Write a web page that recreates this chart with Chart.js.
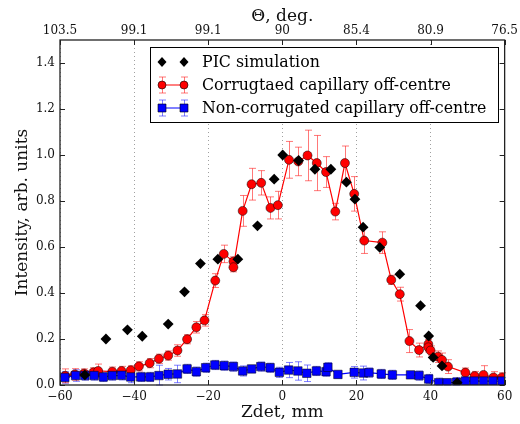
<!DOCTYPE html>
<html>
<head>
<meta charset="utf-8">
<script src="https://cdn.jsdelivr.net/npm/chart.js@4"></script>
<style>
  html, body { margin: 0; padding: 0; background: #fff; }
  #wrap { width: 520px; height: 424px; position: relative; }
</style>
</head>
<body>
<div id="wrap"><canvas id="chart"></canvas></div>
<script>
// PIC simulation (black diamonds)
const picZ = [-53.3, -47.6, -41.8, -37.8, -30.8, -26.4, -22.1, -17.4, -12.0, -6.7, -2.2, 0.1, 4.4, 8.8, 13.1, 17.3, 19.6, 21.8, 26.3, 31.7, 37.3, 39.5, 40.7, 43.1, 47.2];
const picI = [0.044, 0.200, 0.240, 0.212, 0.265, 0.405, 0.528, 0.547, 0.547, 0.692, 0.895, 1.000, 0.976, 0.938, 0.938, 0.882, 0.808, 0.686, 0.598, 0.482, 0.345, 0.213, 0.120, 0.083, 0.010];

// corrugated capillary (red)
const redZ = [-58.6, -56.0, -53.5, -51.0, -49.7, -45.9, -43.4, -40.9, -38.7, -35.8, -33.3, -30.8, -28.3, -25.7, -23.2, -21.0, -18.1, -15.8, -13.2, -13.2, -10.7, -8.3, -5.7, -3.2, -1.2, 1.8, 4.3, 6.8, 9.3, 11.8, 14.3, 16.9, 19.4, 22.1, 27.0, 29.4, 31.7, 34.3, 36.9, 39.4, 39.4, 40.0, 42.0, 43.1, 44.7, 49.4, 51.9, 54.3, 57.0, 59.3];
const redI = [0.040, 0.046, 0.050, 0.055, 0.061, 0.058, 0.061, 0.064, 0.081, 0.095, 0.114, 0.128, 0.150, 0.199, 0.251, 0.281, 0.454, 0.570, 0.537, 0.512, 0.757, 0.873, 0.879, 0.770, 0.782, 0.979, 0.972, 0.998, 0.965, 0.926, 0.754, 0.965, 0.831, 0.628, 0.619, 0.457, 0.395, 0.191, 0.152, 0.178, 0.164, 0.150, 0.123, 0.109, 0.080, 0.054, 0.039, 0.044, 0.033, 0.033];
const redErr = [0.030, 0.025, 0.020, 0.020, 0.030, 0.020, 0.020, 0.020, 0.020, 0.020, 0.020, 0.020, 0.025, 0.020, 0.025, 0.025, 0.030, 0.038, 0.020, 0.020, 0.067, 0.069, 0.053, 0.048, 0.060, 0.080, 0.062, 0.110, 0.120, 0.067, 0.036, 0.074, 0.075, 0.056, 0.047, 0.020, 0.030, 0.050, 0.030, 0.020, 0.020, 0.020, 0.025, 0.030, 0.030, 0.020, 0.020, 0.040, 0.025, 0.020];

// non-corrugated capillary (blue)
const blueZ = [-58.7, -55.8, -53.3, -50.8, -48.3, -45.9, -43.4, -40.9, -38.2, -35.8, -33.3, -30.8, -28.3, -25.7, -23.2, -20.7, -18.2, -15.7, -13.2, -10.7, -8.3, -5.8, -3.3, -0.8, 1.7, 4.2, 6.6, 9.2, 11.8, 12.3, 15.0, 19.4, 21.9, 23.4, 26.7, 29.7, 34.6, 36.9, 39.5, 42.2, 44.5, 47.0, 49.4, 51.8, 54.3, 56.8, 59.3];
const blueI = [0.033, 0.041, 0.041, 0.041, 0.035, 0.041, 0.042, 0.035, 0.035, 0.035, 0.041, 0.047, 0.048, 0.070, 0.058, 0.075, 0.087, 0.084, 0.080, 0.061, 0.070, 0.080, 0.075, 0.055, 0.065, 0.061, 0.051, 0.061, 0.058, 0.077, 0.046, 0.055, 0.052, 0.054, 0.048, 0.044, 0.044, 0.041, 0.026, 0.010, 0.010, 0.012, 0.017, 0.017, 0.017, 0.017, 0.017];
const blueErr = [0.025, 0.025, 0.020, 0.020, 0.020, 0.020, 0.020, 0.025, 0.020, 0.020, 0.045, 0.025, 0.038, 0.020, 0.020, 0.020, 0.020, 0.020, 0.020, 0.022, 0.015, 0.020, 0.020, 0.022, 0.033, 0.040, 0.036, 0.020, 0.020, 0.020, 0.015, 0.025, 0.030, 0.020, 0.020, 0.020, 0.015, 0.020, 0.020, 0.020, 0.015, 0.020, 0.015, 0.015, 0.015, 0.015, 0.015];

const zTicks = [-60, -40, -20, 0, 20, 40, 60];
const thetaLabels = ['103.5', '99.1', '99.1', '90', '85.4', '80.9', '76.5'];
const yTicks = [0, 0.2, 0.4, 0.6, 0.8, 1.0, 1.2, 1.4];

const seriesNames = ['PIC simulation', 'Corrugtaed capillary off-centre', 'Non-corrugated capillary off-centre'];

const FONT = 'DejaVu Serif';
const pts = (xs, ys) => xs.map((x, i) => ({ x: x, y: ys[i] }));

// error bars under the markers, drawn through the chart scales
const errorBars = {
    id: 'errorBars',
    beforeDatasetsDraw(chart) {
        const ctx = chart.ctx;
        const xs = chart.scales.x, ys = chart.scales.y;
        chart.data.datasets.forEach(ds => {
            if (!ds.yErr) return;
            ctx.save();
            ctx.strokeStyle = ds.errColor;
            ctx.lineWidth = 1;
            ds.data.forEach((p, i) => {
                const px = Math.round(xs.getPixelForValue(p.x)) + 0.5;
                const top = ys.getPixelForValue(p.y + ds.yErr[i]);
                const bot = ys.getPixelForValue(Math.max(0, p.y - ds.yErr[i]));
                ctx.beginPath();
                ctx.moveTo(px, top); ctx.lineTo(px, bot);
                ctx.moveTo(px - 3.5, top); ctx.lineTo(px + 3.5, top);
                ctx.moveTo(px - 3.5, bot); ctx.lineTo(px + 3.5, bot);
                ctx.stroke();
            });
            ctx.restore();
        });
    }
};

function diamond(ctx, x, y) {
    ctx.beginPath();
    ctx.moveTo(x, y - 5); ctx.lineTo(x + 4.5, y); ctx.lineTo(x, y + 5); ctx.lineTo(x - 4.5, y);
    ctx.closePath();
    ctx.fillStyle = '#000';
    ctx.fill();
}

// frame, inward ticks on all four sides and the legend box
const decor = {
    id: 'decor',
    afterDraw(chart) {
        const ctx = chart.ctx;
        const a = chart.chartArea;
        const xs = chart.scales.x, ys = chart.scales.y;
        ctx.save();
        ctx.strokeStyle = '#222';
        ctx.lineWidth = 1;
        ctx.beginPath();
        zTicks.forEach(v => {
            const px = Math.round(xs.getPixelForValue(v)) + 0.5;
            ctx.moveTo(px, a.bottom); ctx.lineTo(px, a.bottom - 5);
            ctx.moveTo(px, a.top); ctx.lineTo(px, a.top + 5);
        });
        yTicks.forEach(v => {
            const py = Math.round(ys.getPixelForValue(v)) + 0.5;
            ctx.moveTo(a.left, py); ctx.lineTo(a.left + 5, py);
            ctx.moveTo(a.right, py); ctx.lineTo(a.right - 5, py);
        });
        ctx.stroke();
        ctx.lineWidth = 1.3;
        ctx.strokeRect(a.left, a.top, a.right - a.left, a.bottom - a.top);

        // legend
        const lx = 150, ly = 47, lw = 348, lh = 75;
        ctx.fillStyle = '#fff';
        ctx.fillRect(lx, ly, lw, lh);
        ctx.lineWidth = 1;
        ctx.strokeStyle = '#000';
        ctx.strokeRect(lx + 0.5, ly + 0.5, lw, lh);
        const m1 = 162, m2 = 184, tx = 202;
        const rows = [62, 85, 108];
        diamond(ctx, m1, rows[0]);
        diamond(ctx, m2, rows[0]);
        const styles = [null, { line: '#ff0000', err: 'rgba(255,30,30,0.6)', fill: '#ff0000', shape: 'circle' },
                              { line: '#0000ff', err: 'rgba(40,40,255,0.6)', fill: '#0000ff', shape: 'rect' }];
        [1, 2].forEach(k => {
            const y = rows[k], s = styles[k];
            ctx.strokeStyle = s.err;
            ctx.beginPath();
            [m1, m2].forEach(mx => {
                ctx.moveTo(mx + 0.5, y - 8); ctx.lineTo(mx + 0.5, y + 8);
                ctx.moveTo(mx - 3, y - 8); ctx.lineTo(mx + 4, y - 8);
                ctx.moveTo(mx - 3, y + 8); ctx.lineTo(mx + 4, y + 8);
            });
            ctx.stroke();
            ctx.strokeStyle = s.line;
            ctx.beginPath(); ctx.moveTo(m1, y); ctx.lineTo(m2, y); ctx.stroke();
            ctx.fillStyle = s.fill;
            ctx.strokeStyle = '#000';
            ctx.lineWidth = 0.6;
            [m1, m2].forEach(mx => {
                ctx.beginPath();
                if (s.shape === 'circle') ctx.arc(mx, y, 4, 0, Math.PI * 2);
                else ctx.rect(mx - 4, y - 4, 8, 8);
                ctx.fill(); ctx.stroke();
            });
            ctx.lineWidth = 1;
        });
        ctx.fillStyle = '#000';
        ctx.font = '15.8px "' + FONT + '"';
        ctx.textBaseline = 'middle';
        seriesNames.forEach((t, i) => ctx.fillText(t, tx, rows[i] + 1));
        ctx.restore();
    }
};

const minus = v => (v < 0 ? '\u2212' + Math.abs(v) : String(v));

new Chart(document.getElementById('chart'), {
    type: 'scatter',
    data: {
        datasets: [
            {
                label: seriesNames[0],
                data: pts(picZ, picI),
                showLine: false,
                pointStyle: 'rectRot',
                pointRadius: 5.4,
                backgroundColor: '#000',
                borderColor: '#000',
                borderWidth: 0
            },
            {
                label: seriesNames[2],
                data: pts(blueZ, blueI),
                yErr: blueErr,
                errColor: 'rgba(40,40,255,0.6)',
                showLine: true,
                borderColor: '#0000ff',
                borderWidth: 1.2,
                pointStyle: 'rect',
                pointRadius: 6,
                pointBackgroundColor: '#0000ff',
                pointBorderColor: '#000',
                pointBorderWidth: 0.5
            },
            {
                label: seriesNames[1],
                data: pts(redZ, redI),
                yErr: redErr,
                errColor: 'rgba(255,30,30,0.6)',
                showLine: true,
                borderColor: '#ff0000',
                borderWidth: 1.2,
                pointStyle: 'circle',
                pointRadius: 4.5,
                pointBackgroundColor: '#ff0000',
                pointBorderColor: '#000',
                pointBorderWidth: 0.5
            }
        ]
    },
    options: {
        responsive: true,
        maintainAspectRatio: false,
        animation: false,
        devicePixelRatio: 1,
        layout: { padding: { left: 0, right: 14, top: 0, bottom: 0 } },
        plugins: { legend: { display: false }, tooltip: { enabled: false } },
        scales: {
            x: {
                type: 'linear',
                position: 'bottom',
                min: -60, max: 60,
                afterFit: s => { s.height = 39; },
                afterBuildTicks: s => { s.ticks = zTicks.map(v => ({ value: v })); },
                ticks: { callback: minus, font: { family: FONT, size: 12 }, color: '#111', padding: 5, maxRotation: 0 },
                grid: { color: '#a0a0a0', lineWidth: 1, drawTicks: false },
                border: { display: false, dash: [1, 3] },
                title: { display: true, text: 'Zdet, mm', font: { family: FONT, size: 17 }, color: '#111', padding: { top: 0, bottom: 1 } }
            },
            x2: {
                type: 'linear',
                position: 'top',
                min: -60, max: 60,
                afterFit: s => { s.height = 40; },
                afterBuildTicks: s => { s.ticks = zTicks.map(v => ({ value: v })); },
                ticks: { callback: v => thetaLabels[zTicks.indexOf(v)], font: { family: FONT, size: 12 }, color: '#111', padding: 2, maxRotation: 0 },
                grid: { display: false, drawTicks: false },
                border: { display: false },
                title: { display: true, text: '\u0398, deg.', font: { family: FONT, size: 17 }, color: '#111', padding: { top: 6, bottom: 0 } }
            },
            y: {
                type: 'linear',
                min: 0, max: 1.5,
                afterFit: s => { s.width = 60; },
                afterBuildTicks: s => { s.ticks = yTicks.map(v => ({ value: v })); },
                ticks: { callback: v => v.toFixed(1), font: { family: FONT, size: 12 }, color: '#111', padding: 5 },
                grid: { display: false, drawTicks: false },
                border: { display: false },
                title: { display: true, text: 'Intensity, arb. units', font: { family: FONT, size: 17 }, color: '#111', padding: { top: 12, bottom: 0 } }
            }
        }
    },
    plugins: [errorBars, decor]
});
</script>
</body>
</html>
